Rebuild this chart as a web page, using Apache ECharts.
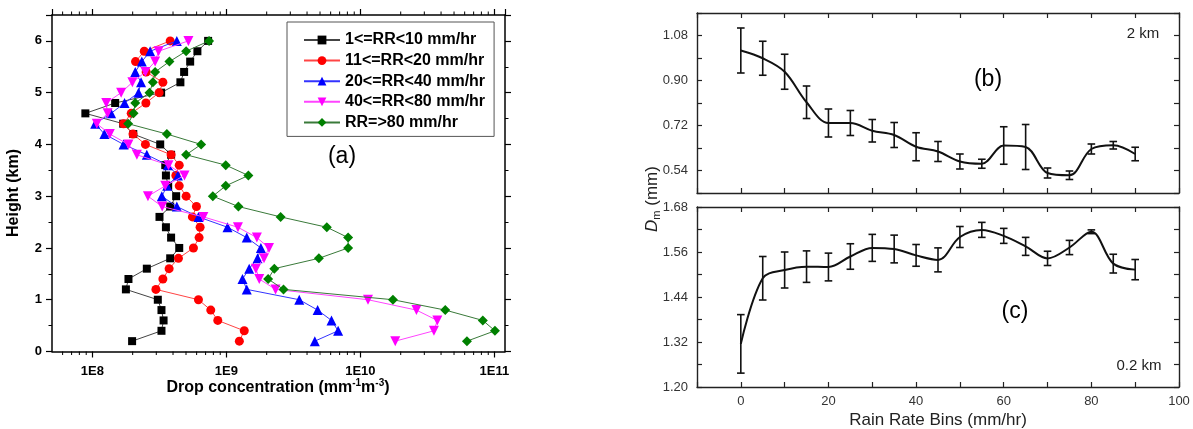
<!DOCTYPE html>
<html><head><meta charset="utf-8">
<script src="https://cdn.jsdelivr.net/npm/echarts@6/dist/echarts.min.js"></script>
<style>html,body{margin:0;padding:0;background:#fff}#c{width:1193px;height:429px}</style>
</head><body><div id="c"></div>
<script>
// ---------- Panel (a): drop concentration profiles ----------
const heights = [0.2,0.4,0.6,0.8,1.0,1.2,1.4,1.6,1.8,2.0,2.2,2.4,2.6,2.8,3.0,3.2,3.4,3.6,3.8,4.0,4.2,4.4,4.6,4.8,5.0,5.2,5.4,5.6,5.8,6.0];
const rr1to10 = [1.98e8,3.28e8,3.40e8,3.28e8,3.08e8,1.78e8,1.86e8,2.55e8,3.81e8,4.45e8,3.87e8,3.54e8,3.17e8,3.81e8,4.22e8,3.68e8,3.54e8,3.50e8,3.87e8,3.21e8,2.02e8,1.70e8,8.87e7,1.48e8,3.26e8,4.54e8,4.84e8,5.37e8,6.08e8,7.31e8];
const rr11to20 = [1.25e9,1.36e9,8.63e8,7.65e8,6.19e8,2.98e8,3.36e8,3.74e8,4.39e8,5.68e8,6.26e8,6.37e8,5.58e8,5.98e8,5.01e8,4.45e8,4.20e8,4.45e8,3.87e8,2.49e8,2.01e8,1.71e8,1.95e8,2.51e8,3.15e8,3.36e8,2.52e8,2.10e8,2.44e8,3.81e8];
const rr20to40 = [4.57e9,6.82e9,6.09e9,4.80e9,3.50e9,1.42e9,1.32e9,1.48e9,1.71e9,1.81e9,1.42e9,1.02e9,6.19e8,4.27e8,3.30e8,3.62e8,4.35e8,3.66e8,2.55e8,1.71e8,1.23e8,1.05e8,1.38e8,1.74e8,2.21e8,2.31e8,2.09e8,2.34e8,2.70e8,4.27e8];
const rr40to80 = [1.82e10,3.54e10,3.75e10,2.62e10,1.14e10,2.33e9,1.76e9,1.66e9,1.91e9,2.08e9,1.69e9,1.22e9,6.74e8,3.32e8,2.60e8,3.50e8,4.87e8,3.70e8,2.15e8,1.86e8,1.35e8,1.08e8,1.30e8,1.27e8,1.64e8,1.99e8,2.49e8,2.94e8,3.12e8,5.21e8];
const rrAbove80 = [6.24e10,1.01e11,8.20e10,4.30e10,1.75e10,2.67e9,2.05e9,2.28e9,4.90e9,8.10e9,8.10e9,5.62e9,2.54e9,1.23e9,7.92e8,9.90e8,1.46e9,9.90e8,5.01e8,6.48e8,3.60e8,1.85e8,2.03e8,2.09e8,2.67e8,2.83e8,2.94e8,3.76e8,5.01e8,7.43e8];
const seriesNames = ['1<=RR<10 mm/hr','11<=RR<20 mm/hr','20<=RR<40 mm/hr','40<=RR<80 mm/hr','RR=>80 mm/hr'];
const heightTicks = [0,1,2,3,4,5,6];

// ---------- Panels (b),(c): Dm vs rain rate ----------
const rainBins = [0,5,10,15,20,25,30,35,40,45,50,55,60,65,70,75,80,85,90];
const dm2km   = [1.02,0.989,0.935,0.813,0.730,0.730,0.699,0.682,0.635,0.616,0.576,0.567,0.640,0.634,0.530,0.521,0.626,0.641,0.606];
const err2km  = [0.09,0.068,0.07,0.065,0.056,0.05,0.045,0.05,0.056,0.04,0.03,0.018,0.075,0.09,0.02,0.017,0.02,0.015,0.027];
const dm02km  = [1.315,1.49,1.512,1.521,1.520,1.548,1.571,1.568,1.551,1.539,1.600,1.619,1.603,1.575,1.543,1.572,1.614,1.529,1.513];
const err02km = [0.078,0.058,0.048,0.042,0.037,0.034,0.036,0.037,0.029,0.032,0.028,0.020,0.020,0.024,0.019,0.019,0.005,0.025,0.027];
const dmLabels2km = ['0.54','0.72','0.90','1.08'];
const dmLabels02km = ['1.20','1.32','1.44','1.56','1.68'];
const rateLabels = ['0','20','40','60','80','100'];

const FONT = 'Liberation Sans, Arial, sans-serif';
const chart = echarts.init(document.getElementById('c'), null, {renderer:'canvas'});

// minor ticks of the log axis (2..9 x 10^n)
const logMinor = [];
for (let e = 7; e <= 11; e++) for (let k = 2; k <= 9; k++) {
  const v = k * Math.pow(10, e);
  if (v > 5e7 && v < 1.2e11) logMinor.push([v, 0]);
}

const profiles = [rr1to10, rr11to20, rr20to40, rr40to80, rrAbove80];
const colors = ['#000000','#ff0000','#0000ff','#ff00ff','#008000'];
const lineColors = ['#444444','#ff4444','#3333ff','#ff44ff','#3a7a3a'];
const symbols = ['rect','circle','triangle','triangle','diamond'];
const symRot = [0,0,0,180,0];
const symSize = [8,9,10,10,10];

const blackAxis = {lineStyle:{color:'#000', width:1.5}};
const grayAxis = {lineStyle:{color:'#222', width:1.4}};

function errRender(params, api) {
  const x = api.value(0), lo = api.value(1), hi = api.value(2);
  const a = api.coord([x, lo]), b = api.coord([x, hi]);
  const w = 3.8, st = {stroke:'#111', lineWidth:1.6};
  return {type:'group', children:[
    {type:'line', shape:{x1:a[0], y1:a[1], x2:b[0], y2:b[1]}, style:st},
    {type:'line', shape:{x1:a[0]-w, y1:a[1], x2:a[0]+w, y2:a[1]}, style:st},
    {type:'line', shape:{x1:b[0]-w, y1:b[1], x2:b[0]+w, y2:b[1]}, style:st}
  ]};
}

const series = profiles.map((arr, i) => ({
  name: seriesNames[i], type:'line', xAxisIndex:0, yAxisIndex:0,
  data: arr.map((v, j) => [v, heights[j]]),
  symbol: symbols[i], symbolRotate: symRot[i], symbolSize: symSize[i],
  showAllSymbol: true,
  itemStyle:{color: colors[i]},
  lineStyle:{color: lineColors[i], width:1},
  z: 2 + i
}));
series.push({
  type:'custom', xAxisIndex:0, yAxisIndex:0, silent:true, data: logMinor,
  encode:{x:0, y:1},
  renderItem(params, api) {
    const v = api.value(0);
    const b = api.coord([v, 0]), t = api.coord([v, 6.5]);
    return {type:'group', children:[
      {type:'line', shape:{x1:b[0], y1:b[1], x2:b[0], y2:b[1]+3.5}, style:{stroke:'#000', lineWidth:1}},
      {type:'line', shape:{x1:t[0], y1:t[1], x2:t[0], y2:t[1]-3.5}, style:{stroke:'#000', lineWidth:1}}
    ]};
  }
});
series.push({type:'line', xAxisIndex:2, yAxisIndex:2, data: rainBins.map((x,i)=>[x, dm2km[i]]),
  smooth:0.35, showSymbol:false, symbol:'none', lineStyle:{color:'#111', width:2}});
series.push({type:'custom', xAxisIndex:2, yAxisIndex:2, encode:{x:0, y:[1,2]}, renderItem: errRender,
  data: rainBins.map((x,i)=>[x, dm2km[i]-err2km[i], dm2km[i]+err2km[i]])});
series.push({type:'line', xAxisIndex:4, yAxisIndex:4, data: rainBins.map((x,i)=>[x, dm02km[i]]),
  smooth:0.35, showSymbol:false, symbol:'none', lineStyle:{color:'#111', width:2}});
series.push({type:'custom', xAxisIndex:4, yAxisIndex:4, encode:{x:0, y:[1,2]}, renderItem: errRender,
  data: rainBins.map((x,i)=>[x, dm02km[i]-err02km[i], dm02km[i]+err02km[i]])});

function logLabel(v) {
  const e = Math.log10(v);
  if (Math.abs(e - Math.round(e)) < 1e-6 && v > 5.1e7 && v < 1.1e11 + 1) return '1E' + Math.round(e);
  return '';
}
const labA = {fontFamily:FONT, fontWeight:'bold', fontSize:13, color:'#000'};
const labR = {fontFamily:FONT, fontSize:13, color:'#333'};

const option = {
  animation:false,
  backgroundColor:'#fff',
  grid:[
    {left:52, top:15, width:453, height:336.5, outerBoundsMode:'none', containLabel:false},
    {left:697, top:13, width:482, height:180, outerBoundsMode:'none', containLabel:false},
    {left:697, top:207, width:482, height:180, outerBoundsMode:'none', containLabel:false}
  ],
  legend:{
    data: seriesNames, orient:'vertical', left:287, top:22,
    itemWidth:36, itemHeight:11, itemGap:4.6,
    padding:[10,9,6,16], borderColor:'#555', borderWidth:1,
    textStyle:{fontFamily:FONT, fontWeight:'bold', fontSize:16, color:'#000', lineHeight:16},
    selectedMode:false
  },
  xAxis:[
    {type:'log', gridIndex:0, min:5e7, max:1.2e11, position:'bottom',
     axisLine:{show:true, onZero:false, ...blackAxis},
     axisTick:{show:true, inside:false, length:6, lineStyle:{color:'#000', width:1.2}},
     axisLabel:{...labA, margin:13, formatter: logLabel, showMinLabel:false, showMaxLabel:false},
     splitLine:{show:false}},
    {type:'log', gridIndex:0, min:5e7, max:1.2e11, position:'top',
     axisLine:{show:true, onZero:false, ...blackAxis},
     axisTick:{show:true, inside:false, length:6, lineStyle:{color:'#000', width:1.2}},
     axisLabel:{show:false}, splitLine:{show:false}},
    {type:'value', gridIndex:1, min:-10, max:100, interval:10, position:'bottom',
     axisLine:{show:true, onZero:false, ...grayAxis},
     axisTick:{show:true, inside:true, length:5, lineStyle:{color:'#222', width:1.2}},
     axisLabel:{show:false}, splitLine:{show:false}},
    {type:'value', gridIndex:1, min:-10, max:100, interval:10, position:'top',
     axisLine:{show:true, onZero:false, ...grayAxis},
     axisTick:{show:true, inside:true, length:5, lineStyle:{color:'#222', width:1.2}},
     axisLabel:{show:false}, splitLine:{show:false}},
    {type:'value', gridIndex:2, min:-10, max:100, interval:10, position:'bottom',
     axisLine:{show:true, onZero:false, ...grayAxis},
     axisTick:{show:true, inside:true, length:5, lineStyle:{color:'#222', width:1.2}},
     axisLabel:{...labR, margin:8, formatter:(v)=> rateLabels.includes(String(Math.round(v))) ? String(Math.round(v)) : ''},
     splitLine:{show:false}},
    {type:'value', gridIndex:2, min:-10, max:100, interval:10, position:'top',
     axisLine:{show:true, onZero:false, ...grayAxis},
     axisTick:{show:true, inside:true, length:5, lineStyle:{color:'#222', width:1.2}},
     axisLabel:{show:false}, splitLine:{show:false}}
  ],
  yAxis:[
    {type:'value', gridIndex:0, min:0, max:6.5, interval:1, position:'left',
     axisLine:{show:true, onZero:false, ...blackAxis},
     axisTick:{show:true, inside:false, length:6, lineStyle:{color:'#000', width:1.2}},
     minorTick:{show:true, splitNumber:2, length:3.5, lineStyle:{color:'#000', width:1}},
     axisLabel:{...labA, margin:10, formatter:(v)=> heightTicks.includes(v) ? String(v) : ''},
     splitLine:{show:false}},
    {type:'value', gridIndex:0, min:0, max:6.5, interval:1, position:'right',
     axisLine:{show:true, onZero:false, ...blackAxis},
     axisTick:{show:true, inside:false, length:6, lineStyle:{color:'#000', width:1.2}},
     minorTick:{show:true, splitNumber:2, length:3.5, lineStyle:{color:'#000', width:1}},
     axisLabel:{show:false}, splitLine:{show:false}},
    {type:'value', gridIndex:1, min:0.45, max:1.17, interval:0.09, position:'left',
     axisLine:{show:true, onZero:false, ...grayAxis},
     axisTick:{show:true, inside:true, length:5, lineStyle:{color:'#222', width:1.2}},
     axisLabel:{...labR, margin:9, formatter:(v)=> dmLabels2km.includes(v.toFixed(2)) ? v.toFixed(2) : ''},
     splitLine:{show:false}},
    {type:'value', gridIndex:1, min:0.45, max:1.17, interval:0.09, position:'right',
     axisLine:{show:true, onZero:false, ...grayAxis},
     axisTick:{show:true, inside:true, length:5, lineStyle:{color:'#222', width:1.2}},
     axisLabel:{show:false}, splitLine:{show:false}},
    {type:'value', gridIndex:2, min:1.2, max:1.68, interval:0.06, position:'left',
     axisLine:{show:true, onZero:false, ...grayAxis},
     axisTick:{show:true, inside:true, length:5, lineStyle:{color:'#222', width:1.2}},
     axisLabel:{...labR, margin:9, formatter:(v)=> dmLabels02km.includes(v.toFixed(2)) ? v.toFixed(2) : ''},
     splitLine:{show:false}},
    {type:'value', gridIndex:2, min:1.2, max:1.68, interval:0.06, position:'right',
     axisLine:{show:true, onZero:false, ...grayAxis},
     axisTick:{show:true, inside:true, length:5, lineStyle:{color:'#222', width:1.2}},
     axisLabel:{show:false}, splitLine:{show:false}}
  ],
  graphic:[
    {type:'text', x:14, y:193, rotation:Math.PI/2,
     style:{text:'Height (km)', font:'bold 16px ' + FONT, fill:'#000', align:'center', verticalAlign:'middle'}},
    {type:'text', x:278, y:388,
     style:{text:'{m|Drop concentration (mm}{s|-1}{m|m}{s|-3}{m|)}', align:'center', verticalAlign:'middle', fill:'#000',
       rich:{m:{fontFamily:FONT, fontWeight:'bold', fontSize:16, fill:'#000', lineHeight:20},
             s:{fontFamily:FONT, fontWeight:'bold', fontSize:10, fill:'#000', verticalAlign:'top', lineHeight:20}}}},
    {type:'text', x:342, y:157, style:{text:'(a)', font:'23px ' + FONT, fill:'#000', align:'center', verticalAlign:'middle'}},
    {type:'text', x:988, y:80, style:{text:'(b)', font:'23px ' + FONT, fill:'#000', align:'center', verticalAlign:'middle'}},
    {type:'text', x:1015, y:312, style:{text:'(c)', font:'23px ' + FONT, fill:'#000', align:'center', verticalAlign:'middle'}},
    {type:'text', x:1143, y:34, style:{text:'2 km', font:'15px ' + FONT, fill:'#222', align:'center', verticalAlign:'middle'}},
    {type:'text', x:1139, y:366, style:{text:'0.2 km', font:'15px ' + FONT, fill:'#222', align:'center', verticalAlign:'middle'}},
    {type:'text', x:938, y:420, style:{text:'Rain Rate Bins (mm/hr)', font:'17px ' + FONT, fill:'#222', align:'center', verticalAlign:'middle'}},
    {type:'text', x:652, y:199, rotation:Math.PI/2,
     style:{text:'{d|D}{s|m}{n| (mm)}', align:'center', verticalAlign:'middle',
       rich:{d:{fontFamily:FONT, fontStyle:'italic', fontSize:17, fill:'#222', lineHeight:20},
             s:{fontFamily:FONT, fontSize:11, fill:'#222', verticalAlign:'bottom', lineHeight:20},
             n:{fontFamily:FONT, fontSize:17, fill:'#222', lineHeight:20}}}}
  ],
  series
};
chart.setOption(option);
</script>
</body></html>
